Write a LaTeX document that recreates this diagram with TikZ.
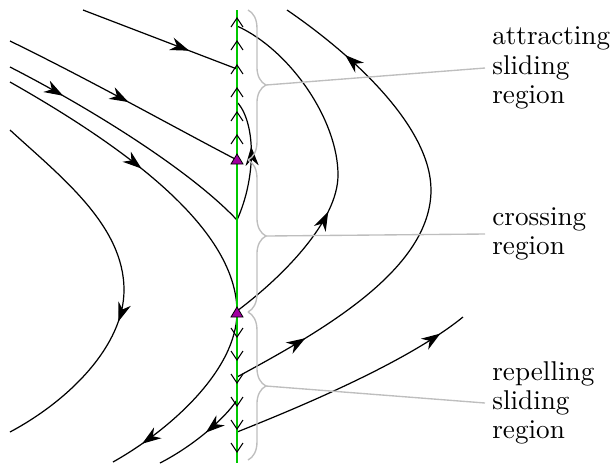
\documentclass[tikz,border=0pt]{standalone}
\usepackage{xcolor}
\usepackage{tikz}
\usetikzlibrary{arrows.meta, decorations.markings, decorations.pathreplacing}

\definecolor{slidegreen}{RGB}{0,200,0}
\definecolor{foldpurple}{RGB}{160,0,160}
\definecolor{bracegray}{RGB}{190,190,190}

\begin{document}
\begin{tikzpicture}[x=0.368pt, y=-0.368pt,
  >={Stealth[length=7pt, width=4.8pt, inset=2.2pt]},
  orbit/.style={black, line width=0.45pt},
  arrowat/.style={postaction={decorate, decoration={markings,
      mark=at position #1 with {\arrow{>}}}}},
  regionbrace/.style={bracegray, line width=0.5pt, decorate,
      decoration={brace, amplitude=6.6pt}},
  regiontext/.style={anchor=west, align=left, inner sep=2.5pt,
      font=\fontsize{10pt}{10.8pt}\selectfont}]

\useasboundingbox (0,0) rectangle (613,463);

% orbits on the left
\draw[orbit, arrowat=0.69] (83,10) -- (237,69);
\draw[orbit, arrowat=0.52] (10,41) .. controls (90,80) and (170,125) .. (237,160);
\draw[orbit, arrowat=0.22] (10,67) .. controls (90,108) and (190,170) .. (237,220);
\draw[orbit, arrowat=0.62] (237,220) .. controls (256,178) and (256,125) .. (238,103);
\draw[orbit, arrowat=0.47] (10,82) .. controls (130,150) and (237,230) .. (237,312);
\draw[orbit, arrowat=0.83] (237,312) .. controls (237,370) and (170,430) .. (113,462);
\draw[orbit] (10,130) .. controls (60,176) and (124,225) .. (124,290);
\draw[orbit, arrowat=0.17] (124,290) .. controls (124,345) and (70,400) .. (10,432);
\draw[orbit, arrowat=0.45] (237,400) .. controls (225,418) and (195,445) .. (160,463);

% orbits on the right
\draw[orbit, arrowat=0.28] (237,377) .. controls (320,332) and (431,270) .. (431,190);
\draw[orbit, arrowat=0.69] (431,190) .. controls (431,130) and (360,60) .. (287,10);
\draw[orbit, arrowat=0.78] (237,311) .. controls (285,275) and (338,220) .. (338,175);
\draw[orbit] (338,175) .. controls (338,120) and (290,50) .. (237,26);
\draw[orbit, arrowat=0.89] (237,432) .. controls (310,403) and (410,360) .. (463,317);

% switching line
\draw[slidegreen, line width=0.8pt] (237,10) -- (237,463);

\foreach \y in {18,41,65,88,112,135}
  \draw[line width=0.4pt] (231,\y+9) -- (237,\y) -- (243,\y+9);
\foreach \y in {337,360,383,406,429,452}
  \draw[line width=0.4pt] (231,\y-9) -- (237,\y) -- (243,\y-9);

% fold points
\foreach \y in {160,313}
  \filldraw[fill=foldpurple, draw=black, line width=0.3pt] (237,\y-6) -- (231,\y+4) -- (243,\y+4) -- cycle;

% regions
\draw[regionbrace] (248,10) -- (248,160);
\draw[regionbrace] (248,160) -- (248,312);
\draw[regionbrace] (248,312) -- (248,460);

\coordinate (tipAttr) at (266,85);
\coordinate (tipCross) at (266,236);
\coordinate (tipRep) at (266,386);

\node[regiontext] (labAttr) at (485,68) {attracting\\sliding\\region};
\node[regiontext] (labCross) at (485,234) {crossing\\region};
\node[regiontext] (labRep) at (485,403) {repelling\\sliding\\region};

\draw[bracegray, line width=0.5pt] (tipAttr) -- (labAttr.west);
\draw[bracegray, line width=0.5pt] (tipCross) -- (labCross.west);
\draw[bracegray, line width=0.5pt] (tipRep) -- (labRep.west);

\end{tikzpicture}
\end{document}
